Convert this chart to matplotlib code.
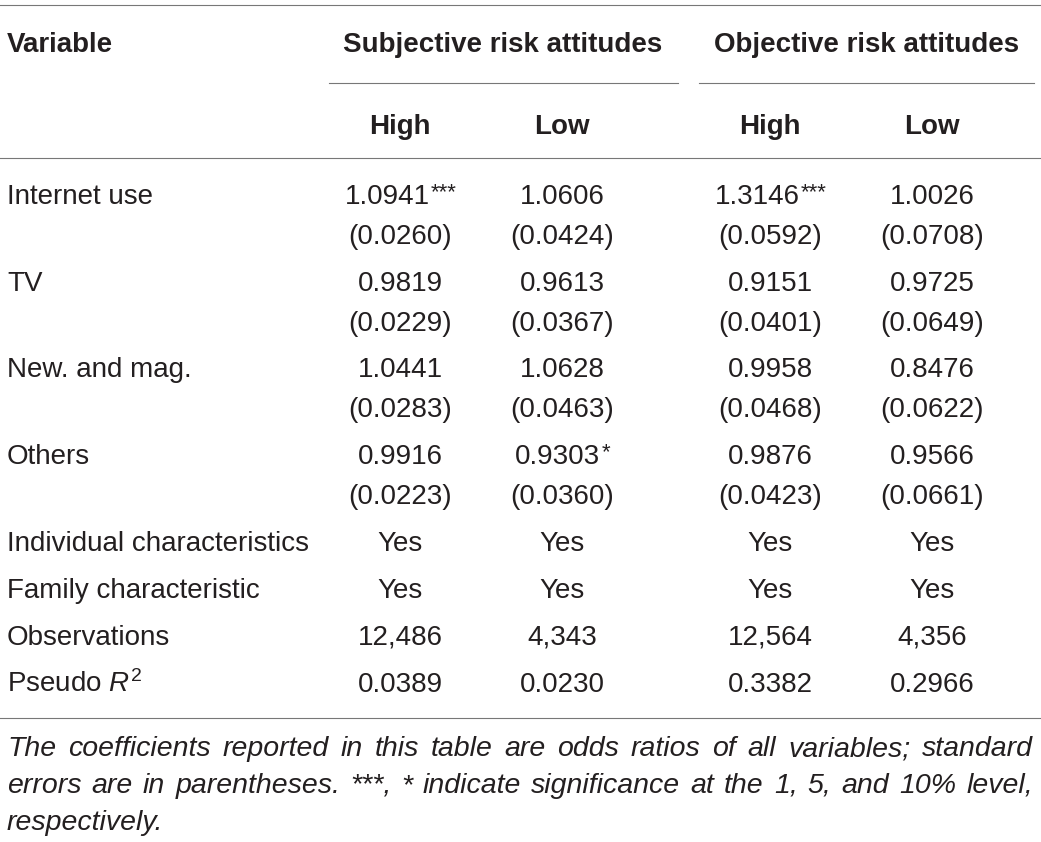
import matplotlib
matplotlib.use("Agg")
import matplotlib.pyplot as plt

plt.rcParams['font.family'] = ['Liberation Sans', 'DejaVu Sans']
plt.rcParams['mathtext.fontset'] = 'custom'
plt.rcParams['mathtext.rm'] = 'Liberation Sans'
plt.rcParams['mathtext.it'] = 'Liberation Sans:italic'
plt.rcParams['mathtext.bf'] = 'Liberation Sans:bold'

# table content
group_labels = ["Subjective risk attitudes", "Objective risk attitudes"]
sub_labels = ["High", "Low", "High", "Low"]
variables = ["Internet use", "TV", "New. and mag.", "Others"]
sub_high = ["1.0941***", "0.9819", "1.0441", "0.9916"]
sub_high_se = ["(0.0260)", "(0.0229)", "(0.0283)", "(0.0223)"]
sub_low = ["1.0606", "0.9613", "1.0628", "0.9303*"]
sub_low_se = ["(0.0424)", "(0.0367)", "(0.0463)", "(0.0360)"]
obj_high = ["1.3146***", "0.9151", "0.9958", "0.9876"]
obj_high_se = ["(0.0592)", "(0.0401)", "(0.0468)", "(0.0423)"]
obj_low = ["1.0026", "0.9725", "0.8476", "0.9566"]
obj_low_se = ["(0.0708)", "(0.0649)", "(0.0622)", "(0.0661)"]
controls = ["Individual characteristics", "Family characteristic"]
control_vals = ["Yes", "Yes", "Yes", "Yes"]
observations = ["12,486", "4,343", "12,564", "4,356"]
pseudo_r2 = ["0.0389", "0.0230", "0.3382", "0.2966"]
footnote_lines = [
    "The coefficients reported in this table are odds ratios of all variables; standard",
    "errors are in parentheses. ***, * indicate significance at the 1, 5, and 10% level,",
    "respectively.",
]

W, H = 1041, 842
TXT = "#231f20"
LINE = "#777777"
FS = 20
STAR_FS = 16

fig = plt.figure(figsize=(W / 100, H / 100), dpi=100)
ax = fig.add_axes([0, 0, 1, 1])
ax.set_xlim(0, W)
ax.set_ylim(H, 0)
ax.axis("off")
fig.canvas.draw()
r = fig.canvas.get_renderer()

col_x = [400, 562, 770, 932]
left = 7
right = 1033


def width(s, fs, **kw):
    t = ax.text(0, 0, s, fontsize=fs, **kw)
    w = t.get_window_extent(r).width
    t.remove()
    return w


def cell(x, y, s):
    stars = s[len(s.rstrip("*")):]
    num = s.rstrip("*")
    if not stars:
        ax.text(x, y, num, ha="center", va="baseline", fontsize=FS, color=TXT)
        return
    wn = width(num, FS)
    ws = width(stars, STAR_FS)
    x0 = x - (wn + ws) / 2
    ax.text(x0, y, num, ha="left", va="baseline", fontsize=FS, color=TXT)
    ax.text(x0 + wn + 1, y - 6, stars, ha="left", va="baseline", fontsize=STAR_FS, color=TXT)


# rules
ax.plot([0, W], [5, 5], color=LINE, lw=0.8)
ax.plot([329, 678], [83, 83], color=LINE, lw=0.8)
ax.plot([699, 1034], [83, 83], color=LINE, lw=0.8)
ax.plot([0, W], [158, 158], color=LINE, lw=0.8)
ax.plot([0, W], [718, 718], color=LINE, lw=0.8)

# header
ax.text(left, 52, "Variable", fontsize=FS, fontweight="bold", color=TXT, va="baseline")
ax.text(503, 52, group_labels[0], fontsize=FS, fontweight="bold", color=TXT, ha="center", va="baseline")
ax.text(867, 52, group_labels[1], fontsize=FS, fontweight="bold", color=TXT, ha="center", va="baseline")
for x, lab in zip(col_x, sub_labels):
    ax.text(x, 134, lab, fontsize=FS, fontweight="bold", color=TXT, ha="center", va="baseline")

# coefficient rows
cols = [(sub_high, sub_high_se), (sub_low, sub_low_se), (obj_high, obj_high_se), (obj_low, obj_low_se)]
y = 204
for i, var in enumerate(variables):
    ax.text(left, y, var, fontsize=FS, color=TXT, va="baseline")
    for x, (c, se) in zip(col_x, cols):
        cell(x, y, c[i])
        cell(x, y + 40, se[i])
    y += 86.7

# other rows
y = 551
for lab in controls:
    ax.text(left, y, lab, fontsize=FS, color=TXT, va="baseline")
    for x, v in zip(col_x, control_vals):
        cell(x, y, v)
    y += 47
ax.text(left, y, "Observations", fontsize=FS, color=TXT, va="baseline")
for x, v in zip(col_x, observations):
    cell(x, y, v)
y += 47
ax.text(left, y, "Pseudo $R^{2}$", fontsize=FS, color=TXT, va="baseline")
for x, v in zip(col_x, pseudo_r2):
    cell(x, y, v)

# justified italic footnote
FFS = 20.5
space = width("a a", FFS, style="italic") - width("aa", FFS, style="italic")
yb = 756
for k, line in enumerate(footnote_lines):
    ln = line.split(" ")
    ws = [width(w, FFS, style="italic") for w in ln]
    if k < len(footnote_lines) - 1 and len(ln) > 1:
        gap = (right - left - sum(ws)) / (len(ln) - 1)
    else:
        gap = space
    x = left
    for word, wd in zip(ln, ws):
        ax.text(x, yb, word, fontsize=FFS, style="italic", color=TXT, va="baseline")
        x += wd + gap
    yb += 37

fig.savefig("out.png", dpi=100)
